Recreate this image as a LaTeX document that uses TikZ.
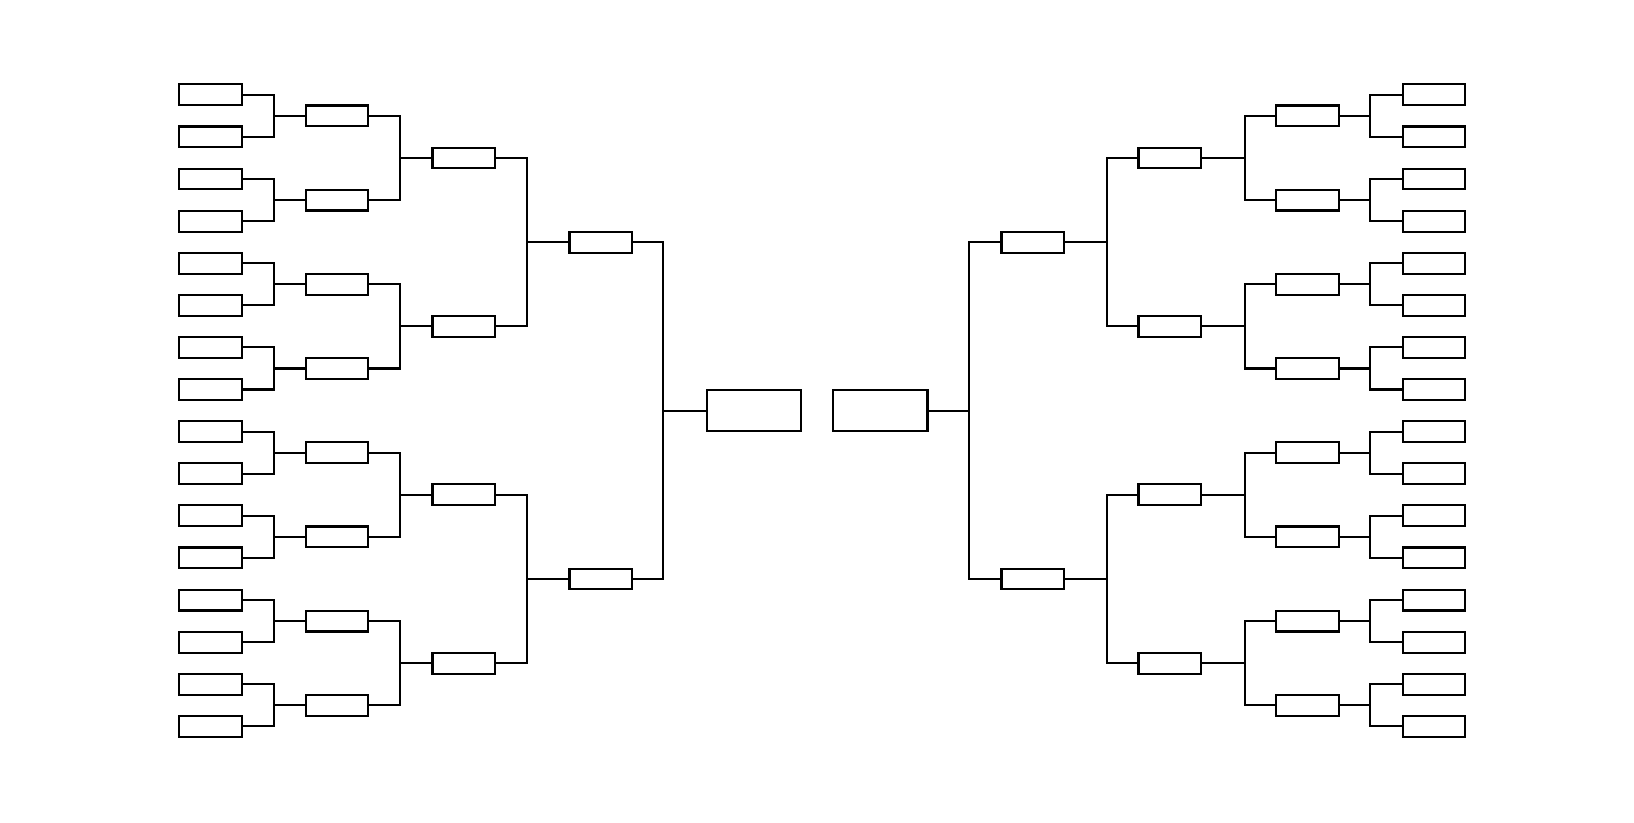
\documentclass[tikz,border=0pt]{standalone}
\begin{document}
\begin{tikzpicture}[x=1pt,y=-1pt,
  slot/.style={draw,line width=2pt,minimum width=60pt,minimum height=20pt,inner sep=0pt,outer sep=0pt},
  final/.style={draw,line width=2pt,minimum width=91pt,minimum height=40pt,inner sep=0pt,outer sep=0pt},
  link/.style={line width=2pt}]
\useasboundingbox (0,0) rectangle (1568,789);
% round centers
\foreach \i in {0,...,15}{
  \pgfmathsetmacro\yy{91+40.4*\i}
  \node[slot] (La\i) at (202,\yy) {};
  \node[slot] (Ra\i) at (1376,\yy) {};
}
\foreach \i in {0,...,7}{
  \pgfmathsetmacro\yy{111.2+80.8*\i}
  \node[slot] (Lb\i) at (323.5,\yy) {};
  \node[slot] (Rb\i) at (1254.5,\yy) {};
}
\foreach \i in {0,...,3}{
  \pgfmathsetmacro\yy{151.6+161.6*\i}
  \node[slot] (Lc\i) at (445,\yy) {};
  \node[slot] (Rc\i) at (1122.5,\yy) {};
}
\foreach \i in {0,1}{
  \pgfmathsetmacro\yy{232.4+323.2*\i}
  \node[slot] (Ld\i) at (576.5,\yy) {};
  \node[slot] (Rd\i) at (991,\yy) {};
}
\node[final] (LF) at (723.5,394) {};
\node[final] (RF) at (844.5,394) {};
% connectors
\foreach \i in {0,...,15}{
  \pgfmathtruncatemacro\j{int(\i/2)}
  \draw[link] (La\i.east) -- ++(31,0) |- (Lb\j.west);
  \draw[link] (Ra\i.west) -- ++(-31,0) |- (Rb\j.east);
}
\foreach \i in {0,...,7}{
  \pgfmathtruncatemacro\j{int(\i/2)}
  \draw[link] (Lb\i.east) -- ++(30,0) |- (Lc\j.west);
  \draw[link] (Rb\i.west) -- ++(-30,0) |- (Rc\j.east);
}
\foreach \i in {0,...,3}{
  \pgfmathtruncatemacro\j{int(\i/2)}
  \draw[link] (Lc\i.east) -- ++(31,0) |- (Ld\j.west);
  \draw[link] (Rc\i.west) -- ++(-30,0) |- (Rd\j.east);
}
\foreach \i in {0,1}{
  \draw[link] (Ld\i.east) -- ++(30,0) |- (LF.west);
  \draw[link] (Rd\i.west) -- ++(-31,0) |- (RF.east);
}
\end{tikzpicture}
\end{document}
